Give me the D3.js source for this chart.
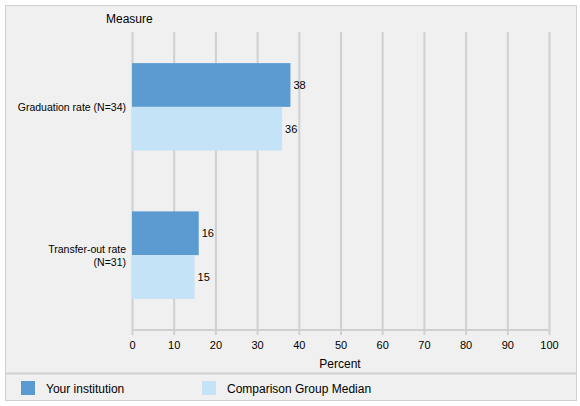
<!DOCTYPE html>
<html><head><meta charset="utf-8">
<script src="https://cdn.jsdelivr.net/npm/d3@7/dist/d3.min.js"></script>
<style>body{margin:0;background:#fff}text{font-family:Arial,"Liberation Sans",sans-serif}</style>
</head><body><svg id="c" width="580" height="406"></svg>
<script>
const categories = ["Graduation rate (N=34)", "Transfer-out rate (N=31)"];
const yourInstitution = [38, 16];
const comparisonMedian = [36, 15];
const ticks = [0,10,20,30,40,50,60,70,80,90,100];
const seriesNames = ["Your institution", "Comparison Group Median"];
const colors = ["#5b9bd1", "#c5e3f6"];

const svg = d3.select("#c");
svg.append("rect").attr("x",5.5).attr("y",5.5).attr("width",571).attr("height",395).attr("fill","#f0f0f0").attr("stroke","#d0d0d0");
svg.append("line").attr("x1",5).attr("x2",577).attr("y1",373.5).attr("y2",373.5).attr("stroke","#d0d0d0").attr("stroke-width",2);

const x = d3.scaleLinear().domain([0,100]).range([132,549]);
const y = d3.scaleBand().domain(categories).range([32,330]).paddingInner(0.41).paddingOuter(0.21);
const sub = d3.scaleBand().domain([0,1]).range([0,y.bandwidth()]);

const g = svg.append("g");
ticks.forEach(t=>{
  g.append("line").attr("x1",x(t)+0.5).attr("x2",x(t)+0.5).attr("y1",32).attr("y2",335).attr("stroke","#d0d0d0").attr("stroke-width",2);
});
g.append("line").attr("x1",132).attr("x2",550).attr("y1",330).attr("y2",330).attr("stroke","#d0d0d0").attr("stroke-width",2);

const ax = svg.append("g").attr("transform","translate(0,335)").call(d3.axisBottom(x).tickValues(ticks).tickSize(0).tickPadding(6));
ax.select(".domain").remove();
ax.selectAll("text").attr("font-size",11).attr("fill","#000");

[yourInstitution, comparisonMedian].forEach((vals,si)=>{
  categories.forEach((c,i)=>{
    const yy = y(c)+sub(si);
    svg.append("rect").attr("x",x(0)).attr("y",yy).attr("width",x(vals[i])-x(0)).attr("height",sub.bandwidth()).attr("fill",colors[si]);
    svg.append("text").attr("x",x(vals[i])+3).attr("y",yy+sub.bandwidth()/2+4).attr("font-size",11).text(vals[i]);
  });
});

const lab = [["Graduation rate (N=34)"],["Transfer-out rate","(N=31)"]];
categories.forEach((c,i)=>{
  const cy = y(c)+y.bandwidth()/2;
  const lines = lab[i];
  lines.forEach((l,j)=>{
    svg.append("text").attr("x",126).attr("y",cy+4+(j-(lines.length-1)/2)*13).attr("text-anchor","end").attr("font-size",10.5).text(l);
  });
});

svg.append("text").attr("x",106).attr("y",23).attr("font-size",12).text("Measure");
svg.append("text").attr("x",340).attr("y",368).attr("text-anchor","middle").attr("font-size",12).text("Percent");

const lx=[21,202];
seriesNames.forEach((n,i)=>{
  svg.append("rect").attr("x",lx[i]).attr("y",381).attr("width",14).attr("height",14).attr("fill",colors[i]);
  svg.append("text").attr("x",lx[i]+25).attr("y",393).attr("font-size",12).text(n);
});
</script></body></html>
